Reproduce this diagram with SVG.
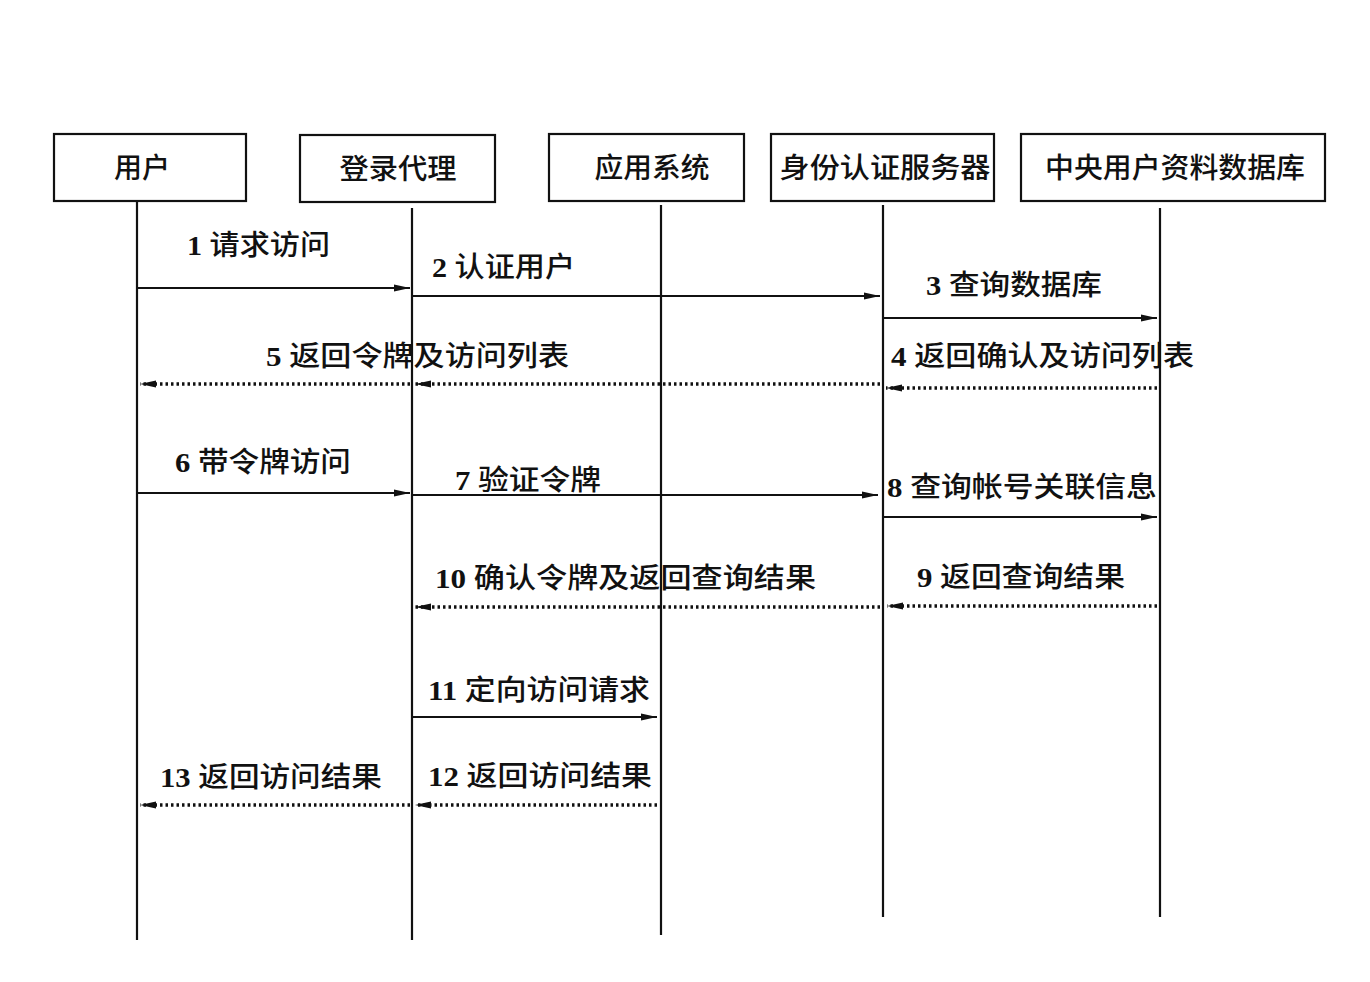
<svg xmlns="http://www.w3.org/2000/svg" width="1370" height="982" viewBox="0 0 1370 982">
<style>
.box{fill:#fff;stroke:#111;stroke-width:2.2}
.life{stroke:#111;stroke-width:2.2;fill:none}
.msg{stroke:#111;stroke-width:2;fill:none}
.ret{stroke:#111;stroke-width:3.5;fill:none;stroke-dasharray:2.5 3}
text{font-family:"Liberation Serif","Noto Sans CJK SC",serif;font-size:28px;fill:#111;font-weight:500}
.n{font-weight:bold}
.c{text-anchor:middle}
</style>
<defs>
<marker id="ah" viewBox="0 0 16 10" refX="16" refY="5" markerWidth="16" markerHeight="10" markerUnits="userSpaceOnUse" orient="auto">
<path d="M0,1.5 L16,5 L0,8.5 Z" fill="#111"/>
</marker>
</defs>
<rect width="1370" height="982" fill="#fff"/>
<g id="user"><rect class="box" x="54" y="134" width="192" height="67"/><text class="c" x="142" y="178" textLength="56" lengthAdjust="spacingAndGlyphs">用户</text><line class="life" x1="137" y1="201" x2="137" y2="940"/></g>
<g id="agent"><rect class="box" x="300" y="135" width="195" height="67"/><text class="c" x="398" y="179" textLength="117" lengthAdjust="spacingAndGlyphs">登录代理</text><line class="life" x1="412" y1="208" x2="412" y2="940"/></g>
<g id="app"><rect class="box" x="549" y="134" width="195" height="67"/><text class="c" x="652" y="178" textLength="115" lengthAdjust="spacingAndGlyphs">应用系统</text><line class="life" x1="661" y1="205" x2="661" y2="935"/></g>
<g id="auth"><rect class="box" x="771" y="134" width="223" height="67"/><text class="c" x="885" y="178" textLength="211" lengthAdjust="spacingAndGlyphs">身份认证服务器</text><line class="life" x1="883" y1="205" x2="883" y2="917"/></g>
<g id="db"><rect class="box" x="1021" y="134" width="304" height="67"/><text class="c" x="1175" y="178" textLength="260" lengthAdjust="spacingAndGlyphs">中央用户资料数据库</text><line class="life" x1="1160" y1="208" x2="1160" y2="917"/></g>
<g id="connectors">
<line class="msg" x1="137" y1="288" x2="410" y2="288" marker-end="url(#ah)"/>
<line class="msg" x1="412" y1="296" x2="880" y2="296" marker-end="url(#ah)"/>
<line class="msg" x1="883" y1="318" x2="1157" y2="318" marker-end="url(#ah)"/>
<line class="ret" x1="1157" y1="388" x2="886" y2="388" marker-end="url(#ah)"/>
<line class="ret" x1="880" y1="384" x2="415" y2="384" marker-end="url(#ah)"/>
<line class="ret" x1="410" y1="384" x2="140" y2="384" marker-end="url(#ah)"/>
<line class="msg" x1="137" y1="493" x2="410" y2="493" marker-end="url(#ah)"/>
<line class="msg" x1="412" y1="495" x2="878" y2="495" marker-end="url(#ah)"/>
<line class="msg" x1="883" y1="517" x2="1157" y2="517" marker-end="url(#ah)"/>
<line class="ret" x1="1157" y1="606" x2="887" y2="606" marker-end="url(#ah)"/>
<line class="ret" x1="880" y1="607" x2="415" y2="607" marker-end="url(#ah)"/>
<line class="msg" x1="412" y1="717" x2="657" y2="717" marker-end="url(#ah)"/>
<line class="ret" x1="657" y1="805" x2="415" y2="805" marker-end="url(#ah)"/>
<line class="ret" x1="410" y1="805" x2="140" y2="805" marker-end="url(#ah)"/>
</g>
<g id="labels">
<text x="187" y="255" textLength="143" lengthAdjust="spacingAndGlyphs"><tspan class="n">1</tspan> 请求访问</text>
<text x="432" y="277" textLength="143" lengthAdjust="spacingAndGlyphs"><tspan class="n">2</tspan> 认证用户</text>
<text x="926" y="295" textLength="176" lengthAdjust="spacingAndGlyphs"><tspan class="n">3</tspan> 查询数据库</text>
<text x="891" y="366" textLength="303" lengthAdjust="spacingAndGlyphs"><tspan class="n">4</tspan> 返回确认及访问列表</text>
<text x="266" y="366" textLength="303" lengthAdjust="spacingAndGlyphs"><tspan class="n">5</tspan> 返回令牌及访问列表</text>
<text x="175" y="472" textLength="176" lengthAdjust="spacingAndGlyphs"><tspan class="n">6</tspan> 带令牌访问</text>
<text x="455" y="490" textLength="146" lengthAdjust="spacingAndGlyphs"><tspan class="n">7</tspan> 验证令牌</text>
<text x="887" y="497" textLength="270" lengthAdjust="spacingAndGlyphs"><tspan class="n">8</tspan> 查询帐号关联信息</text>
<text x="917" y="587" textLength="208" lengthAdjust="spacingAndGlyphs"><tspan class="n">9</tspan> 返回查询结果</text>
<text x="435" y="588" textLength="381" lengthAdjust="spacingAndGlyphs"><tspan class="n">10</tspan> 确认令牌及返回查询结果</text>
<text x="428" y="700" textLength="222" lengthAdjust="spacingAndGlyphs"><tspan class="n">11</tspan> 定向访问请求</text>
<text x="428" y="786" textLength="224" lengthAdjust="spacingAndGlyphs"><tspan class="n">12</tspan> 返回访问结果</text>
<text x="160" y="787" textLength="222" lengthAdjust="spacingAndGlyphs"><tspan class="n">13</tspan> 返回访问结果</text>
</g>
</svg>
